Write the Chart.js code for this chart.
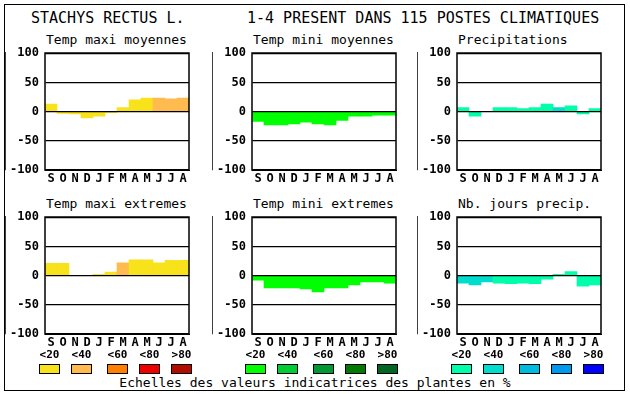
<!DOCTYPE html>
<html><head><meta charset="utf-8">
<script src="https://cdn.jsdelivr.net/npm/chart.js@4"></script>
<style>
html,body{margin:0;padding:0;background:#fff;}
body{width:630px;height:394px;position:relative;overflow:hidden;font-family:"DejaVu Sans Mono",monospace;color:#000;}
.t{position:absolute;white-space:pre;line-height:1;}
#frame{position:absolute;left:4px;top:4px;width:619px;height:385px;border:1px solid #000;}
canvas{position:absolute;}
.sw{position:absolute;width:19px;height:8px;border:1px solid #000;}
</style></head><body>
<div id="frame"></div>
<script>
const months = ["S","O","N","D","J","F","M","A","M","J","J","A"];
const yTicks = [100, 50, 0, -50, -100];
const legendLabels = ["<20","<40","<60","<80",">80"];

const tmaxMoy    = [13, -3, -4, -11, -8, -2, 7, 20, 23, 23, 22, 23];
const tmaxMoyLvl = [0, 0, 0, 0, 0, 0, 0, 0, 0, 1, 1, 1];
const tminMoy    = [-17, -23, -23, -21, -18, -21, -23, -15, -8, -8, -6, -6];
const tminMoyLvl = [0, 0, 0, 0, 0, 0, 0, 0, 0, 0, 0, 0];
const precip     = [7, -8, 0, 7, 7, 5, 7, 13, 7, 10, -4, 5];
const precipLvl  = [0, 0, 0, 0, 0, 0, 0, 0, 1, 0, 0, 0];
const tmaxExt    = [21, 21, 0, 0, 2, 6, 22, 27, 27, 22, 26, 26];
const tmaxExtLvl = [0, 0, 0, 0, 0, 0, 1, 0, 0, 0, 0, 0];
const tminExt    = [-8, -21, -21, -21, -23, -28, -21, -21, -16, -11, -11, -13];
const tminExtLvl = [0, 0, 0, 0, 0, 0, 0, 0, 0, 0, 0, 0];
const nbJours    = [-13, -16, -11, -13, -14, -13, -14, -6, 2, 7, -18, -16];
const nbJoursLvl = [1, 1, 1, 0, 0, 0, 0, 0, 0, 0, 0, 0];

const warm  = ['#f8e21c','#ffbb4f','#ff8000','#ee0000','#b00c00'];
const green = ['#00ff00','#00cc33','#009933','#007a00','#006622'];
const blue  = ['#00ffaa','#00ddcc','#00bbdd','#0099ee','#0000ff'];

const mainTitle = "STACHYS RECTUS L.";
const subTitle = "1-4 PRESENT DANS 115 POSTES CLIMATIQUES";
const footer = "Echelles des valeurs indicatrices des plantes en %";

const panels = [
  {title:"Temp maxi moyennes", data:tmaxMoy, lvl:tmaxMoyLvl, pal:warm,  x:45,  y:50},
  {title:"Temp mini moyennes", data:tminMoy, lvl:tminMoyLvl, pal:green, x:252, y:50},
  {title:"Precipitations",     data:precip,  lvl:precipLvl,  pal:blue,  x:457, y:50},
  {title:"Temp maxi extremes", data:tmaxExt, lvl:tmaxExtLvl, pal:warm,  x:45,  y:214},
  {title:"Temp mini extremes", data:tminExt, lvl:tminExtLvl, pal:green, x:252, y:214},
  {title:"Nb. jours precip.",  data:nbJours, lvl:nbJoursLvl, pal:blue,  x:457, y:214}
];

function addText(txt, left, cy, size, weight, center){
  const d = document.createElement('div');
  d.className = 't';
  d.textContent = txt;
  d.style.fontSize = size + 'px';
  d.style.fontWeight = weight || 'normal';
  d.style.top = (cy - size/2) + 'px';
  d.style.left = left + 'px';
  if (center) d.style.transform = 'translateX(-50%)';
  document.body.appendChild(d);
}

addText(mainTitle, 31, 18, 15);
addText(subTitle, 247, 18, 15);
addText(footer, 315, 382, 13, 'normal', true);

const frameBox = {
  id:'frameBox',
  afterDraw(chart){
    const a = chart.chartArea, c = chart.ctx;
    c.save(); c.strokeStyle = '#000'; c.lineWidth = 1.5;
    c.strokeRect(Math.round(a.left), Math.round(a.top), Math.round(a.right - a.left), Math.round(a.bottom - a.top));
    c.restore();
  }
};

const YW = 40, PT = 10, PR = 10, XH = 20, PW = 144, PH = 120;
panels.forEach(p => {
  addText(p.title, p.x + 1, p.y - 11, 13);
  const cv = document.createElement('canvas');
  cv.width = YW + PW + PR; cv.height = PT + PH + XH;
  cv.style.left = (p.x - YW) + 'px'; cv.style.top = (p.y - PT) + 'px';
  cv.style.width = cv.width + 'px'; cv.style.height = cv.height + 'px';
  document.body.appendChild(cv);
  new Chart(cv, {
    type:'bar',
    data:{labels:months, datasets:[{data:p.data,
      backgroundColor:p.lvl.map(l => p.pal[l]),
      borderWidth:0, barPercentage:1, categoryPercentage:1}]},
    options:{
      responsive:false, animation:false, devicePixelRatio:1,
      layout:{padding:{top:PT, right:PR, left:0, bottom:0}},
      plugins:{legend:{display:false}, tooltip:{enabled:false}},
      scales:{
        x:{
          grid:{display:false, drawTicks:false},
          border:{display:true, color:'#000', width:1},
          ticks:{color:'#000', autoSkip:false, maxRotation:0, padding:2,
                 font:{family:'DejaVu Sans Mono', size:12, weight:'bold'}},
          afterFit(s){ s.height = XH; }
        },
        y:{
          min:-100, max:100,
          afterBuildTicks(s){ s.ticks = yTicks.map(v => ({value:v})); },
          grid:{color:'#000', lineWidth:1.2, drawTicks:false, z:1},
          border:{display:true, color:'#000', width:1.5},
          ticks:{color:'#000', padding:6,
                 font:{family:'DejaVu Sans Mono', size:12, weight:'bold'}},
          afterFit(s){ s.width = YW; }
        }
      }
    },
    plugins:[frameBox]
  });
});

const swatchLefts = [[39,71,107,139,171],[245,277,313,345,377],[451,483,519,551,583]];
const pals = [warm, green, blue];
swatchLefts.forEach((row, g) => {
  row.forEach((lx, i) => {
    const s = document.createElement('div');
    s.className = 'sw';
    s.style.left = lx + 'px'; s.style.top = '364px';
    s.style.background = pals[g][i];
    document.body.appendChild(s);
    addText(legendLabels[i], lx + 10.5, 354, 11, 'bold', true);
  });
});
</script>
</body></html>
